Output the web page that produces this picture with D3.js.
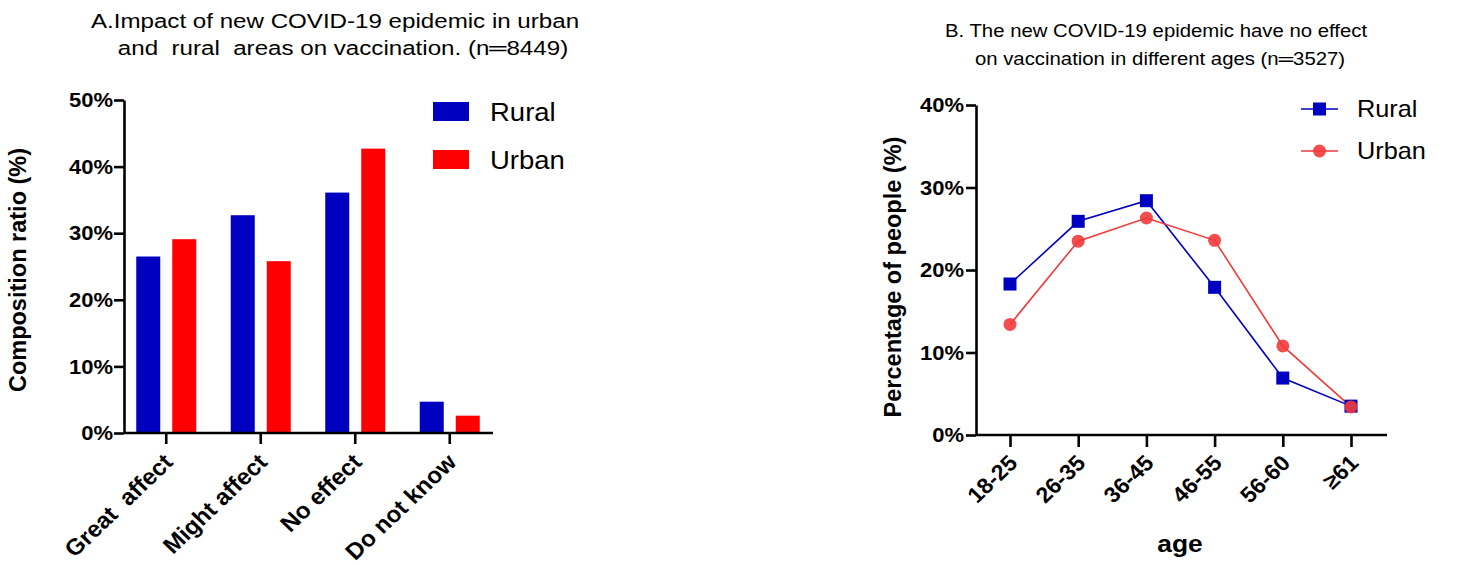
<!DOCTYPE html>
<html>
<head>
<meta charset="utf-8">
<script src="https://cdn.jsdelivr.net/npm/d3@7"></script>
<style>
  html, body { margin: 0; padding: 0; background: #fff; }
  svg { display: block; font-family: "Liberation Sans", Arial, sans-serif; }
</style>
</head>
<body>
<svg id="chart" width="1465" height="565"></svg>
<script>
// ---------- Data ----------
const effectCategories = ["Great  affect", "Might affect", "No effect", "Do not know"];
const seriesNames = ["Rural", "Urban"];
const ruralEffect = [26.5, 32.7, 36.1, 4.7];
const urbanEffect = [29.1, 25.8, 42.7, 2.6];
const effectTicks = [0, 10, 20, 30, 40, 50];

const ageGroups = ["18-25", "26-35", "36-45", "46-55", "56-60", "≥61"];
const ruralAge = [18.3, 25.9, 28.4, 17.9, 6.9, 3.5];
const urbanAge = [13.4, 23.5, 26.3, 23.6, 10.8, 3.4];
const ageTicks = [0, 10, 20, 30, 40];

const titleA = ["A.Impact of new COVID-19 epidemic in urban", "and  rural  areas on vaccination. (n═8449)"];
const titleB = ["B. The new COVID-19 epidemic have no effect", "on vaccination in different ages (n═3527)"];

const BLUE = "#0000c0";
const RED = "#ff0000";
const RED_LINE = "#f23a3a";

const svg = d3.select("#chart");
const SX = 1.1; // slight horizontal stretch of the original text

function stretchText(g, x, y, txt, opts) {
  const t = g.append("text")
    .attr("transform", `translate(${x},${y}) scale(${opts.sx || SX},1)` + (opts.rotate ? ` rotate(${opts.rotate})` : ""))
    .attr("text-anchor", opts.anchor || "start")
    .attr("font-size", opts.size)
    .attr("font-weight", opts.weight || "normal")
    .attr("fill", "#000")
    .style("white-space", "pre")
    .text(txt);
  if (opts.dy) t.attr("dy", opts.dy);
  return t;
}

// ================= Chart A =================
const gA = svg.append("g");
const yA = d3.scaleLinear().domain([0, 50]).range([433, 100]);
const xA = d3.scaleBand().domain(effectCategories).range([119, 497]);
const xA1 = d3.scaleBand().domain(seriesNames).range([-30, 30]).paddingInner(1 / 3);

const dataA = effectCategories.map((c, i) => ({ cat: c, values: [
  { s: "Rural", v: ruralEffect[i] }, { s: "Urban", v: urbanEffect[i] }] }));

const colA = d3.scaleOrdinal().domain(seriesNames).range([BLUE, RED]);

gA.selectAll("g.cat").data(dataA).join("g")
  .attr("class", "cat")
  .attr("transform", d => `translate(${xA(d.cat) + xA.bandwidth() / 2},0)`)
  .selectAll("rect").data(d => d.values).join("rect")
  .attr("x", d => xA1(d.s))
  .attr("width", xA1.bandwidth())
  .attr("y", d => yA(d.v))
  .attr("height", d => yA(0) - yA(d.v))
  .attr("fill", d => colA(d.s));

// y axis A
const yAxisA = gA.append("g").attr("transform", "translate(124,0)")
  .call(d3.axisLeft(yA).tickValues(effectTicks).tickSize(10).tickSizeOuter(0).tickFormat(d => d + "%"));
yAxisA.select(".domain").attr("stroke-width", 2.6);
yAxisA.selectAll(".tick line").attr("stroke-width", 2.6);
yAxisA.selectAll(".tick text").remove();
effectTicks.forEach(t => stretchText(gA, 113, yA(t), t + "%", { size: 20, weight: "bold", anchor: "end", dy: "0.36em" }));

// x axis A
gA.append("line").attr("x1", 124).attr("x2", 493).attr("y1", yA(0)).attr("y2", yA(0))
  .attr("stroke", "#000").attr("stroke-width", 2.6);
const xAxisA = gA.append("g").attr("transform", `translate(0,${yA(0)})`)
  .call(d3.axisBottom(xA).tickSize(11).tickSizeOuter(0));
xAxisA.select(".domain").remove();
xAxisA.selectAll(".tick line").attr("stroke-width", 2.6);
xAxisA.selectAll(".tick text").remove();
effectCategories.forEach(c => {
  const cx = xA(c) + xA.bandwidth() / 2;
  stretchText(gA, cx + 2, 458, c, { size: 23, weight: "bold", anchor: "end", rotate: -45, sx: 1.05, dy: "0.35em" });
});

// y title A
stretchText(gA, 26, 270, "Composition ratio (%)", { size: 23.5, weight: "bold", anchor: "middle", rotate: -90, sx: 1 });

// title A
stretchText(gA, 335, 28, titleA[0], { size: 21, anchor: "middle", sx: 1.15 });
stretchText(gA, 343, 55, titleA[1], { size: 21, anchor: "middle", sx: 1.15 });

// legend A
seriesNames.forEach((s, i) => {
  const ly = 102 + i * 48;
  gA.append("rect").attr("x", 433).attr("y", ly).attr("width", 36).attr("height", 19).attr("fill", colA(s));
  stretchText(gA, 490, ly + 19, s, { size: 25 });
});

// ================= Chart B =================
const gB = svg.append("g");
const yB = d3.scaleLinear().domain([0, 40]).range([435, 105]);
const xB = d3.scalePoint().domain(ageGroups).range([1010, 1351]);

const seriesB = [
  { name: "Rural", values: ruralAge, color: BLUE, marker: "square" },
  { name: "Urban", values: urbanAge, color: RED_LINE, marker: "circle" }
];

// y axis B
const yAxisB = gB.append("g").attr("transform", "translate(976,0)")
  .call(d3.axisLeft(yB).tickValues(ageTicks).tickSize(10).tickSizeOuter(0));
yAxisB.select(".domain").attr("stroke-width", 2.6);
yAxisB.selectAll(".tick line").attr("stroke-width", 2.6);
yAxisB.selectAll(".tick text").remove();
ageTicks.forEach(t => stretchText(gB, 964, yB(t), t + "%", { size: 20, weight: "bold", anchor: "end", dy: "0.36em" }));

gB.append("line").attr("x1", 976).attr("x2", 1387).attr("y1", yB(0)).attr("y2", yB(0))
  .attr("stroke", "#000").attr("stroke-width", 2.6);
const xAxisB = gB.append("g").attr("transform", `translate(0,${yB(0)})`)
  .call(d3.axisBottom(xB).tickSize(12).tickSizeOuter(0));
xAxisB.select(".domain").remove();
xAxisB.selectAll(".tick line").attr("stroke-width", 2.6);
xAxisB.selectAll(".tick text").remove();
ageGroups.forEach(a => {
  stretchText(gB, xB(a) + 3, 459, a, { size: 22, weight: "bold", anchor: "end", rotate: -45, sx: 1.05, dy: "0.35em" });
});

// lines & markers
const line = d3.line().x((d, i) => xB(ageGroups[i])).y(d => yB(d));
seriesB.forEach(s => {
  gB.append("path").datum(s.values).attr("d", line)
    .attr("fill", "none").attr("stroke", s.color).attr("stroke-width", 1.6);
});
seriesB.forEach(s => {
  const mg = gB.append("g");
  if (s.marker === "square") {
    mg.selectAll("rect").data(s.values).join("rect")
      .attr("x", (d, i) => xB(ageGroups[i]) - 6.5).attr("y", d => yB(d) - 6.5)
      .attr("width", 13).attr("height", 13).attr("fill", s.color);
  } else {
    mg.selectAll("circle").data(s.values).join("circle")
      .attr("cx", (d, i) => xB(ageGroups[i])).attr("cy", d => yB(d))
      .attr("r", 6.5).attr("fill", s.color).attr("fill-opacity", 0.9);
  }
});

// y title B
stretchText(gB, 901, 277, "Percentage of people (%)", { size: 23.5, weight: "bold", anchor: "middle", rotate: -90, sx: 1 });
// x title B
stretchText(gB, 1180, 552, "age", { size: 24, weight: "bold", anchor: "middle" });

// title B
stretchText(gB, 1156, 37, titleB[0], { size: 18.5, anchor: "middle" });
stretchText(gB, 1160, 65, titleB[1], { size: 18.5, anchor: "middle" });

// legend B
seriesB.forEach((s, i) => {
  const ly = 109 + i * 42;
  gB.append("line").attr("x1", 1301).attr("x2", 1338).attr("y1", ly).attr("y2", ly)
    .attr("stroke", s.color).attr("stroke-width", 1.6);
  if (s.marker === "square") {
    gB.append("rect").attr("x", 1319.5 - 6.5).attr("y", ly - 6.5).attr("width", 13).attr("height", 13).attr("fill", s.color);
  } else {
    gB.append("circle").attr("cx", 1319.5).attr("cy", ly).attr("r", 6.5).attr("fill", s.color).attr("fill-opacity", 0.9);
  }
  stretchText(gB, 1357, ly + 8, s.name, { size: 23 });
});
</script>
</body>
</html>
